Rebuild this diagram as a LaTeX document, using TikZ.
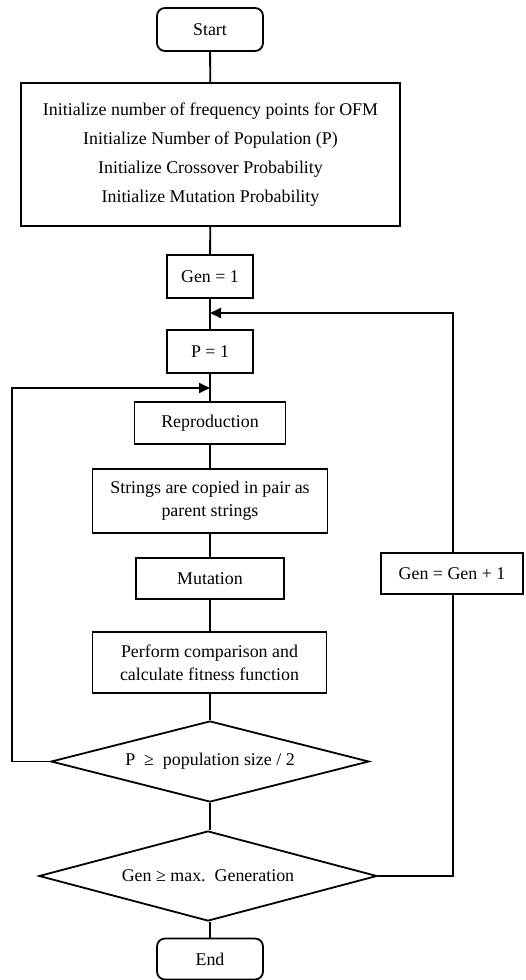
\documentclass[tikz,border=0pt]{standalone}
\usepackage{fontspec}
\setmainfont{Liberation Serif}
\usetikzlibrary{shapes.geometric,arrows.meta}
\begin{document}
\begin{tikzpicture}[x=1pt,y=-1pt,
  every node/.style={font=\fontsize{17.9}{23}\selectfont, inner sep=0pt, align=center},
  box/.style={draw, line width=1.8pt, rectangle},
  term/.style={draw, line width=1.8pt, rectangle, rounded corners=8pt},
  dec/.style={draw, line width=1.8pt, diamond, inner sep=0pt},
  conn/.style={line width=1.8pt},
  arr/.style={line width=1.8pt, -{Triangle[length=11pt,width=10pt]}}]
\useasboundingbox (0,0) rectangle (526,980);
\node[term, minimum width=106pt, minimum height=43pt] (start) at (210,29.5) {Start};
\node[box, minimum width=379pt, minimum height=143pt, font=\fontsize{17.9}{29}\selectfont] (init) at (210.5,154.5)
  {Initialize number of frequency points for OFM\\Initialize Number of Population (P)\\Initialize Crossover Probability\\Initialize Mutation Probability};
\node[box, minimum width=86pt, minimum height=43pt] (gen1) at (210,276.5) {Gen = 1};
\node[box, minimum width=86pt, minimum height=43pt] (p1) at (210,351.5) {P = 1};
\node[box, minimum width=151pt, minimum height=42pt] (repro) at (210,423) {Reproduction};
\node[box, minimum width=235pt, minimum height=64pt] (strings) at (210,501) {Strings are copied in pair as\\parent strings};
\node[box, minimum width=148pt, minimum height=41pt] (mut) at (210,578.5) {Mutation};
\node[box, minimum width=234pt, minimum height=61pt] (perf) at (209.5,662.5) {Perform comparison and\\calculate fitness function};
\node[dec, shape aspect=3.9, minimum width=318pt, minimum height=81pt] (d1) at (210,761.5) {P~~≥~~population size / 2};
\node[dec, shape aspect=3.75, minimum width=338pt, minimum height=90pt] (d2) at (208,876) {Gen ≥ max.~~Generation};
\node[term, minimum width=106pt, minimum height=41pt] (end) at (210,959) {End};
\node[box, minimum width=142pt, minimum height=41pt] (gg) at (452,573.5) {Gen = Gen + 1};
\coordinate (lp) at (210,388);
\coordinate (rp) at (210,313);
\coordinate (lx) at (12,760);
\coordinate (rx) at (453,875);
\draw[conn] (start) -- (init);
\draw[conn] (init) -- (gen1);
\draw[conn] (gen1) -- (p1);
\draw[conn] (p1) -- (repro);
\draw[conn] (repro) -- (strings);
\draw[conn] (strings) -- (mut);
\draw[conn] (mut) -- (perf.north -| mut.south);
\draw[conn] (perf.south -| d1.north) -- (d1);
\draw[conn] (d1) -- (d1.south |- d2.north);
\draw[conn] (d2.south -| end.north) -- (end);
\draw[arr] (d1.west) -- (d1.west -| lx) |- (lp);
\draw[conn] (d2.east) -- (d2.east -| rx) -- (gg.south -| rx);
\draw[arr] (gg.north -| rx) |- (rp);
\end{tikzpicture}
\end{document}
